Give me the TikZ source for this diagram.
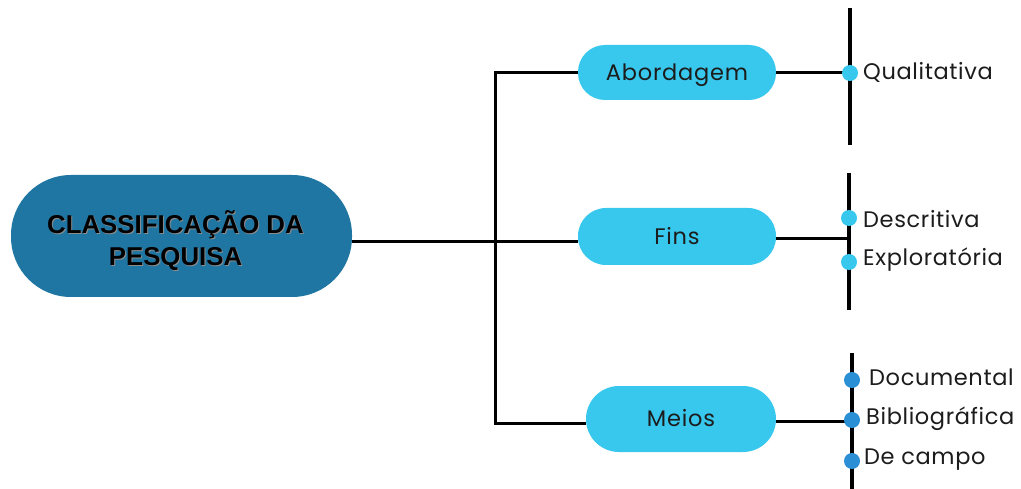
\documentclass[tikz,border=0pt]{standalone}
\usepackage{fontspec}
\setmainfont{Liberation Sans}
\newfontfamily\labfont[LetterSpace=2.8]{Poppins}
\newfontfamily\pillfont[LetterSpace=3.5]{Poppins}
\newfontfamily\titfont{Liberation Sans}
\definecolor{darkpill}{HTML}{1F76A3}
\definecolor{lightpill}{HTML}{38C8EE}
\definecolor{dotblue}{HTML}{2B8FD6}
\definecolor{txtgray}{HTML}{1C1C1C}
\tikzset{
  pill/.style={rectangle, rounded corners=#1, fill=lightpill, inner sep=0pt, font=\pillfont\fontsize{22.5}{26}\selectfont, text=txtgray, text height=15.7pt, text depth=0pt},
  conn/.style={line width=3pt, draw=black},
  bar/.style={line width=3.6pt, draw=black},
  dotc/.style={circle, fill=lightpill, inner sep=0pt, minimum size=16pt},
  dotd/.style={circle, fill=dotblue, inner sep=0pt, minimum size=16pt},
  leaf/.style={anchor=west, inner sep=0pt, font=\labfont\fontsize{22.5}{26}\selectfont, text=txtgray, text height=15.7pt, text depth=0pt},
}
\begin{document}
\begin{tikzpicture}[x=1pt,y=-1pt]
\useasboundingbox[fill=white] (0,0) rectangle (1021,489);
% main node
\node[rectangle, rounded corners=60pt, fill=darkpill, minimum width=341pt, minimum height=122pt, inner sep=0pt] (main) at (181.5,236) {};
\node[text=black!45, font=\titfont\bfseries\fontsize{25.8}{31.5}\selectfont, align=center] (mainshadow) at (176.5,241.5) {CLASSIFICAÇÃO DA\\PESQUISA};
\node[text=black, font=\titfont\bfseries\fontsize{25.8}{31.5}\selectfont, align=center] (maintext) at (175.5,240.5) {CLASSIFICAÇÃO DA\\PESQUISA};
% category pills
\node[pill=27pt, minimum width=198pt, minimum height=55pt] (abord) at (677,72.5) {Abordagem};
\node[pill=28pt, minimum width=198pt, minimum height=57pt] (fins) at (677,236.5) {Fins};
\node[pill=33pt, minimum width=190pt, minimum height=66pt] (meios) at (681,419) {Meios};
% trunk
\coordinate (tr) at (495,242);
\coordinate (ttop) at (495,73);
\coordinate (tbot) at (495,423);
\draw[conn] (main.east |- tr) -- (tr);
\draw[conn, line cap=rect] (ttop) -- (tbot);
\draw[conn] (ttop) -- (abord.west |- ttop);
\draw[conn] (tbot) -- (meios.west |- tbot);
\draw[conn] (tr) -- (fins.west |- tr);
% right bars
\coordinate (b1t) at (850,8); \coordinate (b1b) at (850,145);
\coordinate (b2t) at (849,173); \coordinate (b2b) at (849,310);
\coordinate (b3t) at (852,353); \coordinate (b3b) at (852,489);
\draw[bar] (b1t) -- (b1b);
\draw[bar] (b2t) -- (b2b);
\draw[bar] (b3t) -- (b3b);
\draw[conn] (abord.east) -- (abord.east -| b1t);
\draw[conn] (fins.east |- 0,239) -- (849,239);
\draw[conn] (meios.east |- 0,421) -- (852,421);
% dots
\node[dotc] (d1) at (850,73) {};
\node[dotc] (d2) at (849,218) {};
\node[dotc] (d3) at (849,262) {};
\node[dotd] (d4) at (852,380) {};
\node[dotd] (d5) at (852,420) {};
\node[dotd] (d6) at (852,461) {};
% leaf labels
\node[leaf] (l1) at (863,71.5) {Qualitativa};
\node[leaf] (l2) at (863,220) {Descritiva};
\node[leaf] (l3) at (863,257.7) {Exploratória};
\node[leaf] (l4) at (869,378) {Documental};
\node[leaf] (l5) at (866,417) {Bibliográfica};
\node[leaf] (l6) at (864,457) {De campo};
\end{tikzpicture}
\end{document}
